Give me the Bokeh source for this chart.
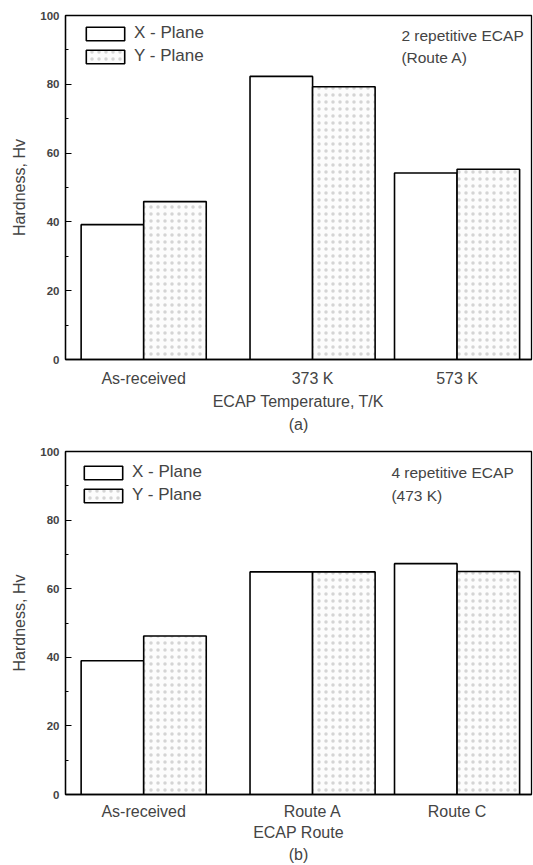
from bokeh.plotting import figure
from bokeh.models import (Range1d, FixedTicker, Legend, LegendItem, Label,
                          ColumnDataSource)
from bokeh.layouts import column
from bokeh.embed import file_html
from bokeh.resources import INLINE

# ---------------- data ----------------
cats_a = ["As-received", "373 K", "573 K"]
x_plane_a = [39.2, 82.3, 54.2]
y_plane_a = [45.9, 79.3, 55.3]

cats_b = ["As-received", "Route A", "Route C"]
x_plane_b = [39.0, 64.9, 67.3]
y_plane_b = [46.2, 64.9, 65.0]

series_names = ["X - Plane", "Y - Plane"]
y_ticks = [0, 20, 40, 60, 80, 100]
y_minor = [10, 30, 50, 70, 90]

# ---------------- layout constants ----------------
CAT_POS = [125, 395, 626]      # category centres (layout units)
BAR_W = 100
X_MAX = 745
FONT = "Liberation Sans"


def make_panel(cats, xs, ys, xlabel, tag, note1, note2, note_x, note_y,
               height, top, bottom, leg_xy, tick_so, lab_so, line_h):
    p = figure(width=533, height=height, output_backend="svg", toolbar_location=None,
               x_range=Range1d(0, X_MAX), y_range=Range1d(0, 100),
               min_border_left=65, min_border_right=2,
               min_border_top=top, min_border_bottom=bottom)
    p.background_fill_color = "white"
    p.border_fill_color = "white"
    p.outline_line_color = "black"
    p.outline_line_width = 1.3
    p.xgrid.visible = False
    p.ygrid.visible = False

    src = ColumnDataSource(dict(
        xl=[c - BAR_W / 2 for c in CAT_POS],
        xr=[c + BAR_W / 2 for c in CAT_POS],
        xv=xs, yv=ys))
    r1 = p.vbar(x="xl", top="xv", width=BAR_W, bottom=0, source=src,
                fill_color="white", line_color="black", line_width=1.6)
    r2 = p.vbar(x="xr", top="yv", width=BAR_W, bottom=0, source=src,
                fill_color="#fcfcfc", line_color="black", line_width=1.6,
                hatch_pattern="dot", hatch_color="#8a8a8a", hatch_scale=7,
                hatch_alpha=0.35, hatch_weight=1)

    # y axis
    ya = p.yaxis[0]
    ya.ticker = FixedTicker(ticks=y_ticks, minor_ticks=y_minor)
    ya.major_tick_in = 6
    ya.major_tick_out = 0
    ya.minor_tick_in = 3
    ya.minor_tick_out = 0
    ya.major_label_text_font = FONT
    ya.major_label_text_font_style = "bold"
    ya.major_label_text_font_size = "11.5px"
    ya.major_label_standoff = 6
    ya.axis_label = "Hardness, Hv"
    ya.axis_label_text_font = FONT
    ya.axis_label_text_font_style = "normal"
    ya.axis_label_text_font_size = "16px"
    ya.axis_label_standoff = 9
    ya.axis_line_color = "black"
    ya.axis_line_width = 1.3

    # x axis (title plus panel tag on a second line)
    xa = p.xaxis[0]
    xa.ticker = FixedTicker(ticks=CAT_POS, minor_ticks=[])
    xa.major_label_overrides = {c: n for c, n in zip(CAT_POS, cats)}
    xa.major_tick_in = 0
    xa.major_tick_out = 0
    xa.minor_tick_in = 0
    xa.minor_tick_out = 0
    xa.major_label_text_font = FONT
    xa.major_label_text_font_size = "16px"
    xa.major_label_standoff = tick_so
    xa.axis_label = xlabel + "\n" + tag
    xa.axis_label_text_font = FONT
    xa.axis_label_text_font_style = "normal"
    xa.axis_label_text_font_size = "16px"
    xa.axis_label_text_line_height = line_h
    xa.axis_label_standoff = lab_so
    xa.axis_line_color = "black"
    xa.axis_line_width = 1.3

    leg = Legend(items=[LegendItem(label=series_names[0], renderers=[r1]),
                        LegendItem(label=series_names[1], renderers=[r2])],
                 location=leg_xy, padding=0, margin=0, spacing=3,
                 glyph_width=48, glyph_height=17, label_height=17,
                 label_standoff=5, label_text_font=FONT,
                 label_text_font_size="17px",
                 background_fill_alpha=0, border_line_alpha=0)
    p.add_layout(leg)

    p.add_layout(Label(x=note_x, y=note_y[0], text=note1, text_font=FONT,
                       text_font_size="15.5px", text_baseline="middle",
                       text_align="left"))
    p.add_layout(Label(x=note_x, y=note_y[1], text=note2, text_font=FONT,
                       text_font_size="15.5px", text_baseline="middle",
                       text_align="left"))
    return p


p1 = make_panel(cats_a, x_plane_a, y_plane_a, "ECAP Temperature, T/K", "(a)",
                "2 repetitive ECAP", "(Route A)", 537, (94.2, 87.8),
                height=436, top=15, bottom=77, leg_xy=(16, 293),
                tick_so=10, lab_so=3, line_h=1.38)
p2 = make_panel(cats_b, x_plane_b, y_plane_b, "ECAP Route", "(b)",
                "4 repetitive ECAP", "(473 K)", 521, (94.0, 87.3),
                height=429, top=15, bottom=71, leg_xy=(14, 289),
                tick_so=8, lab_so=1, line_h=1.3)

layout = column(p1, p2, spacing=0)
open("out.html", "w").write(file_html(layout, INLINE))
